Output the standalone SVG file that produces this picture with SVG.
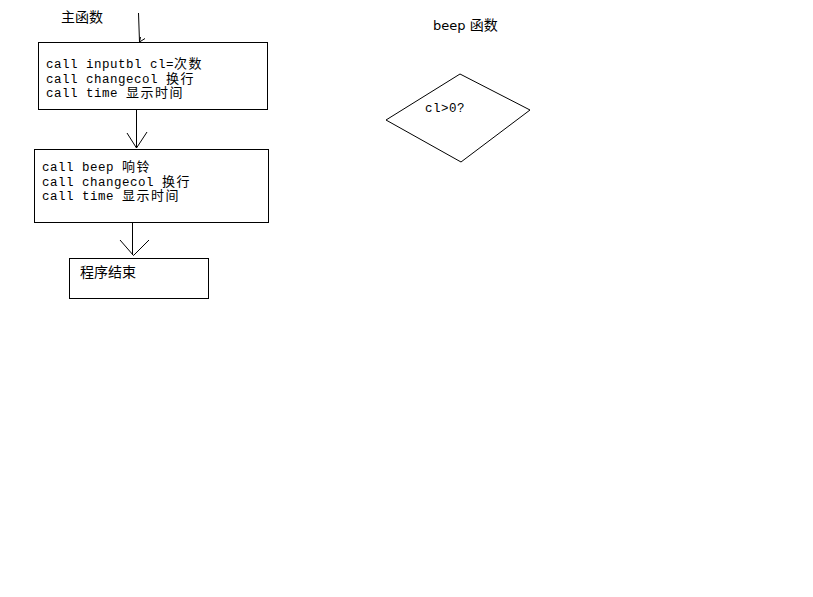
<svg xmlns="http://www.w3.org/2000/svg" width="813" height="597" viewBox="0 0 813 597">
  <style>
    .box { fill: #ffffff; stroke: #000000; stroke-width: 1; }
    .edge { fill: none; stroke: #000000; stroke-width: 1; }
    .mono { font-family: "Liberation Mono", "Noto Sans CJK SC", monospace; font-size: 12.5px; letter-spacing: 0.5px; fill: #000000; }
    .wide { font-family: "Noto Sans CJK SC", sans-serif; font-size: 13px; letter-spacing: 1.5px; }
    .cjk { font-family: "Noto Sans CJK SC", sans-serif; font-size: 14px; fill: #000000; }
    .label { font-family: "DejaVu Sans", "Noto Sans CJK SC", sans-serif; font-size: 13px; fill: #000000; }
  </style>
  <rect width="813" height="597" fill="#ffffff"/>

  <!-- titles -->
  <text class="cjk" x="61" y="22">主函数</text>
  <text class="label" x="433" y="30">beep <tspan class="cjk">函数</tspan></text>

  <!-- connectors -->
  <g id="connectors">
    <path class="edge" d="M138.5,13 L139.5,42"/>
    <path class="edge" d="M140.5,37 L139.5,42 L145,38.5"/>
    <path class="edge" d="M136.5,110 L136.5,148"/>
    <path class="edge" d="M127,133 L136.5,148 L147,132"/>
    <path class="edge" d="M132.5,223 L132.5,255"/>
    <path class="edge" d="M120,240 L133.5,255.5 L149,240"/>
  </g>

  <g id="main-init">
    <rect class="box" x="38.5" y="42.5" width="229" height="67"/>
    <text class="mono" x="46" y="68">call inputbl cl=<tspan class="wide">次数</tspan></text>
    <text class="mono" x="46" y="82.5">call changecol <tspan class="wide">换行</tspan></text>
    <text class="mono" x="46" y="97">call time <tspan class="wide">显示时间</tspan></text>
  </g>

  <g id="main-loop">
    <rect class="box" x="34.5" y="149.5" width="234" height="73"/>
    <text class="mono" x="42" y="171">call beep <tspan class="wide">响铃</tspan></text>
    <text class="mono" x="42" y="185.5">call changecol <tspan class="wide">换行</tspan></text>
    <text class="mono" x="42" y="200">call time <tspan class="wide">显示时间</tspan></text>
  </g>

  <g id="main-end">
    <rect class="box" x="69.5" y="258.5" width="139" height="40"/>
    <text class="cjk" x="80" y="277">程序结束</text>
  </g>

  <g id="beep-check">
    <polygon class="box" points="460,74 530,110 461,162 386,120"/>
    <text class="mono" x="425" y="112">cl&gt;0?</text>
  </g>
</svg>
